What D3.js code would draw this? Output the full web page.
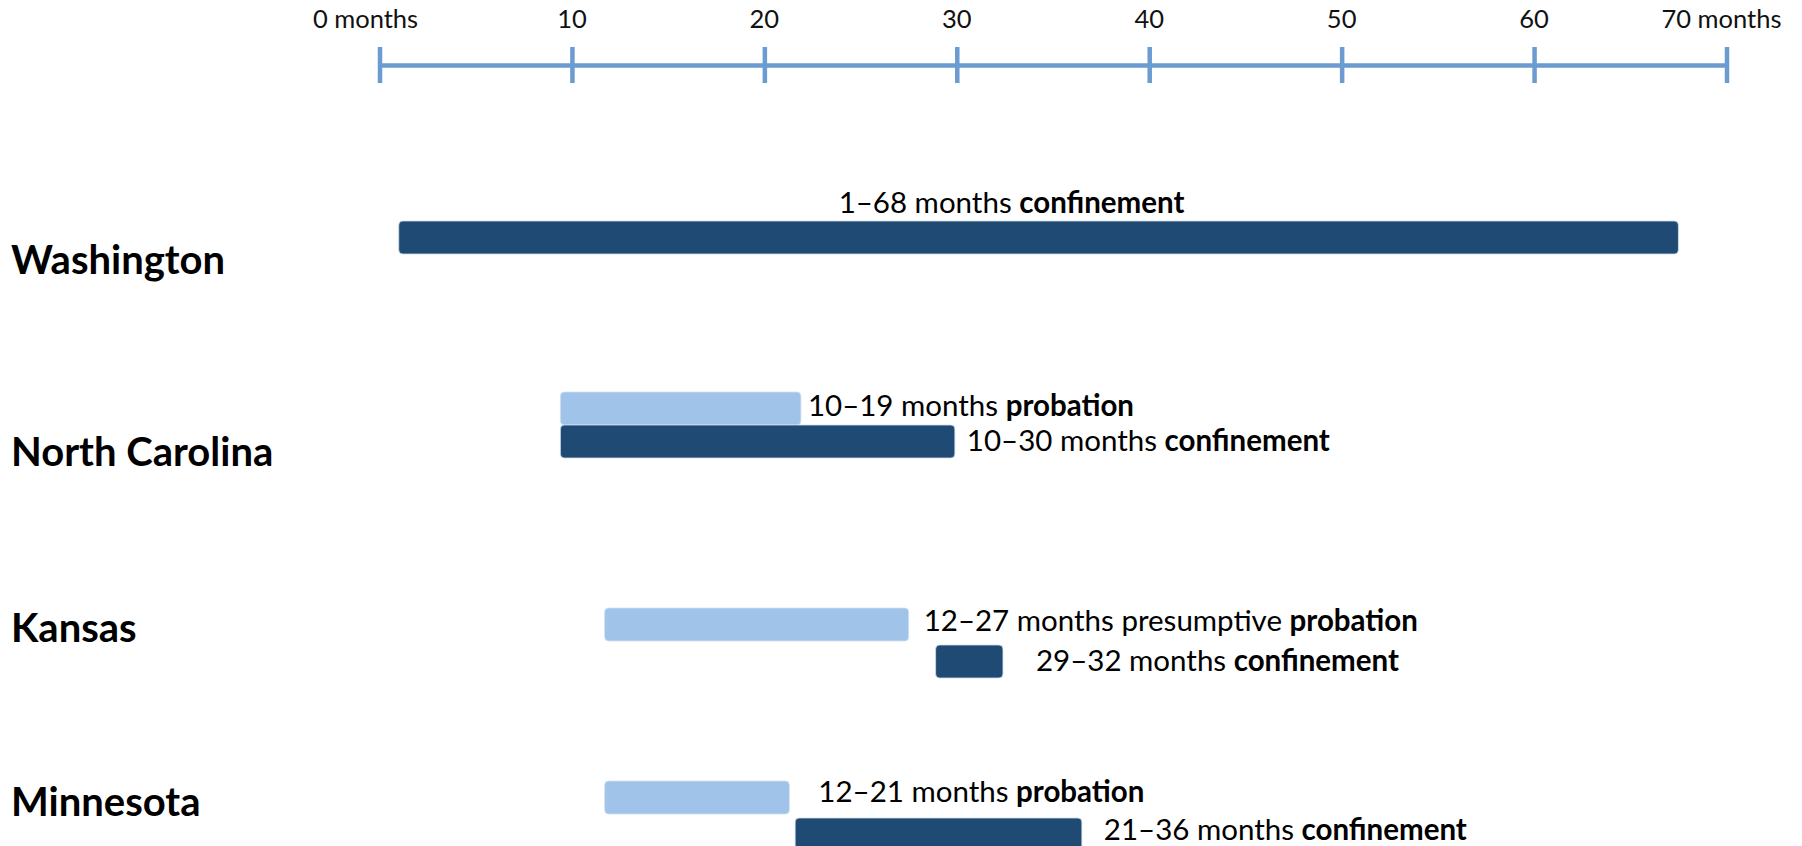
<!DOCTYPE html>
<html>
<head>
<meta charset="utf-8">
<script src="https://cdn.jsdelivr.net/npm/d3@7"></script>
<style>
  html, body { margin: 0; padding: 0; background: #fff; }
  svg { display: block; font-family: Lato, 'Open Sans', sans-serif; }
</style>
</head>
<body>
<div id="chart"></div>
<script>
// states shown as rows
const states = ['Washington', 'North Carolina', 'Kansas', 'Minnesota'];

// one entry per bar
const barState = ['Washington', 'North Carolina', 'North Carolina', 'Kansas', 'Kansas', 'Minnesota', 'Minnesota'];
const barKind = ['confinement', 'probation', 'confinement', 'probation', 'confinement', 'probation', 'confinement'];
const barStart = [1, 9.4, 9.4, 11.7, 28.9, 11.7, 21.6];
const barEnd = [67.5, 21.9, 29.9, 27.5, 32.4, 21.3, 36.5];
const rangeText = ['1–68', '10–19', '10–30', '12–27', '29–32', '12–21', '21–36'];
const qualifier = ['', '', '', 'presumptive ', '', '', ''];

// axis
const tickValues = [0, 10, 20, 30, 40, 50, 60, 70];
const tickLabels = ['0 months', '10', '20', '30', '40', '50', '60', '70 months'];

// layout (not data)
const width = 1802;
const height = 846;
const barH = 33;
const rowTop = { 'Washington': 221, 'North Carolina': 392, 'Kansas': 608, 'Minnesota': 781 };
const laneGap = { 'Washington': 0, 'North Carolina': 33, 'Kansas': 37, 'Minnesota': 37 };
const rowBaseline = [274, 466, 642, 816];
const labelDx = [0, 7, 12, 15, 33, 29, 22];
const labelDy = [0, 7, 9, 6, 9, 4, 5];

const colors = { probation: '#a0c3e9', confinement: '#1f4a73' };

const bars = barState.map((s, i) => ({
  state: s,
  kind: barKind[i],
  start: barStart[i],
  end: barEnd[i],
  text: rangeText[i],
  qual: qualifier[i],
  i: i
}));

const svg = d3.select('#chart')
  .append('svg')
  .attr('width', width)
  .attr('height', height);

const x = d3.scaleLinear().domain([0, 70]).range([379.5, 1726.5]);

// y position of a bar: probation sits in the top lane, confinement below
const yOf = (d) => {
  const hasProb = bars.some((b) => b.state === d.state && b.kind === 'probation');
  return rowTop[d.state] + (hasProb && d.kind === 'confinement' ? laneGap[d.state] : 0);
};

// top axis
const axisG = svg.append('g').attr('transform', 'translate(0, 65.5)');
axisG.call(d3.axisTop(x).tickValues(tickValues).tickSize(0).tickFormat(''));
axisG.select('.domain')
  .attr('stroke', '#6a9bd1')
  .attr('stroke-width', 4.5)
  .attr('d', `M${x(0)},0H${x(70)}`);
axisG.selectAll('.tick line')
  .attr('stroke', '#6a9bd1')
  .attr('stroke-width', 4.5)
  .attr('y1', -18.5)
  .attr('y2', 17.5);
axisG.selectAll('.tick text').remove();

svg.append('g')
  .selectAll('text')
  .data(tickValues)
  .enter()
  .append('text')
  .attr('x', (d) => x(d))
  .attr('dx', (d, i) => (i === 0 ? -14 : (i === tickValues.length - 1 ? -5 : 0)))
  .attr('y', 28)
  .attr('text-anchor', 'middle')
  .style('font-size', '25.5px')
  .style('fill', '#111')
  .text((d, i) => tickLabels[i]);

// state names
svg.append('g')
  .selectAll('text')
  .data(states)
  .enter()
  .append('text')
  .attr('x', 11)
  .attr('y', (d, i) => rowBaseline[i])
  .style('font-size', '40px')
  .style('font-weight', 'bold')
  .style('fill', '#000')
  .text((d) => d);

// bars
svg.append('g')
  .selectAll('rect')
  .data(bars)
  .enter()
  .append('rect')
  .attr('x', (d) => x(d.start))
  .attr('y', (d) => yOf(d))
  .attr('width', (d) => x(d.end) - x(d.start))
  .attr('height', barH)
  .attr('rx', 4)
  .attr('fill', (d) => colors[d.kind])
  .attr('stroke', '#d3e0ee')
  .attr('stroke-width', 0.8);

// bar labels
const labels = svg.append('g')
  .selectAll('text')
  .data(bars)
  .enter()
  .append('text')
  .attr('x', (d) => d.state === 'Washington' ? x((d.start + d.end) / 2) - 27 : x(d.end) + labelDx[d.i])
  .attr('y', (d) => d.state === 'Washington' ? yOf(d) - 8 : yOf(d) + barH / 2 + labelDy[d.i])
  .attr('text-anchor', (d) => d.state === 'Washington' ? 'middle' : 'start')
  .style('font-size', '29.5px')
  .style('fill', '#000');

labels.append('tspan').text((d) => `${d.text} months ${d.qual}`);
labels.append('tspan').style('font-weight', 'bold').text((d) => d.kind);
</script>
</body>
</html>
